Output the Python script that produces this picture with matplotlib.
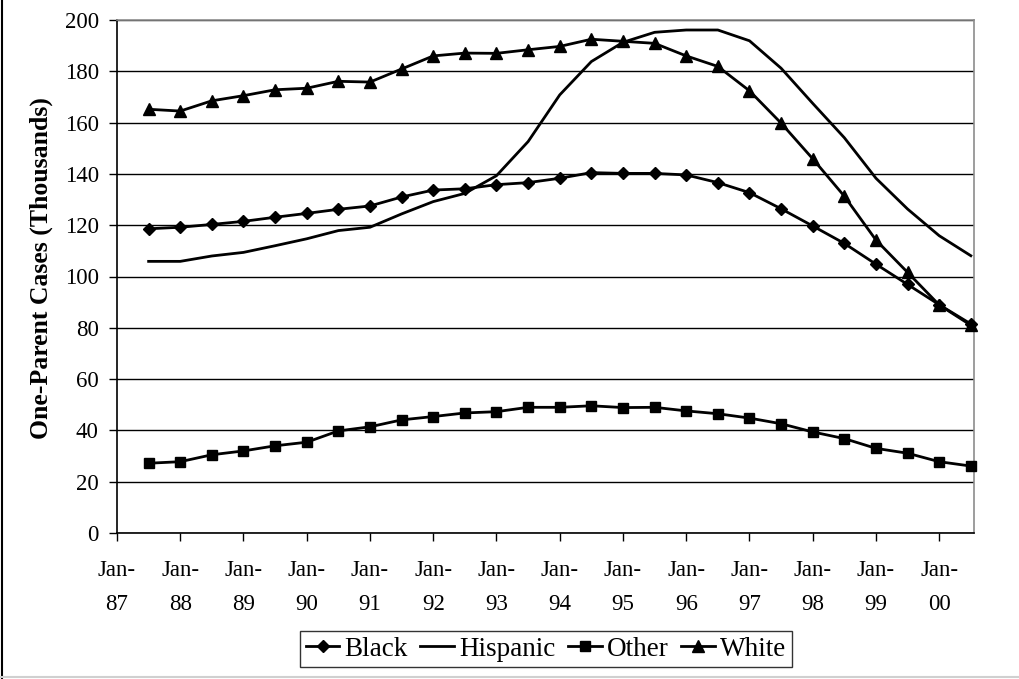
import numpy as np
import matplotlib
matplotlib.use("Agg")
import matplotlib.pyplot as plt
from matplotlib.lines import Line2D

plt.rcParams["font.family"] = ["Liberation Serif", "DejaVu Serif"]

# Half-yearly observations, July 1987 through July 2000
start_year = 1987.5
tick_labels = ["Jan-\n87", "Jan-\n88", "Jan-\n89", "Jan-\n90", "Jan-\n91", "Jan-\n92",
               "Jan-\n93", "Jan-\n94", "Jan-\n95", "Jan-\n96", "Jan-\n97", "Jan-\n98",
               "Jan-\n99", "Jan-\n00"]

black = [118.6, 119.2, 120.3, 121.5, 123.1, 124.6, 126.2, 127.5, 131.0, 133.7, 134.2,
         135.8, 136.6, 138.3, 140.5, 140.2, 140.2, 139.6, 136.6, 132.7, 126.4, 119.7,
         112.9, 104.8, 96.9, 89.0, 81.5]
hispanic = [105.9, 105.9, 108.0, 109.4, 112.0, 114.7, 117.9, 119.2, 124.4, 129.2, 132.4,
            139.3, 152.6, 170.8, 183.8, 191.3, 195.2, 196.1, 196.1, 191.9, 181.2, 167.5,
            154.1, 138.3, 126.3, 115.9, 108.1]
other = [27.2, 27.8, 30.5, 32.0, 34.0, 35.4, 39.8, 41.4, 44.1, 45.4, 46.8, 47.3, 49.0,
         49.0, 49.6, 48.9, 49.0, 47.6, 46.5, 44.8, 42.6, 39.4, 36.8, 33.0, 31.1, 27.8, 26.1]
white = [165.2, 164.5, 168.5, 170.5, 172.8, 173.4, 176.1, 175.8, 180.9, 186.0, 187.1,
         187.0, 188.4, 189.7, 192.5, 191.7, 190.9, 186.0, 181.9, 172.4, 159.8, 145.9,
         131.3, 114.2, 101.6, 88.9, 81.0]

x = start_year + 0.5 * np.arange(len(black))

W, H = 1020, 679
fig = plt.figure(figsize=(W / 100, H / 100), dpi=100)
ax = fig.add_axes([117 / W, 1 - 533 / H, (974 - 117) / W, (533 - 20) / H])

lw = 2.0
ax.plot(x, black, color="black", lw=lw, marker="D", ms=6.5, clip_on=False, zorder=3, label="Black")
ax.plot(x, hispanic, color="black", lw=lw, clip_on=False, zorder=3, label="Hispanic")
ax.plot(x, other, color="black", lw=lw, marker="s", ms=7, clip_on=False, zorder=3, label="Other")
ax.plot(x, white, color="black", lw=lw, marker="^", ms=8, clip_on=False, zorder=3, label="White")

ax.set_xlim(1987, 2000.55)
ax.set_ylim(0, 200)
ax.set_yticks(np.arange(0, 201, 20))
ax.set_xticks(np.arange(1987, 2001))
ax.set_xticklabels(tick_labels, linespacing=1.8)
ax.tick_params(axis="both", labelsize=16.5, direction="out", length=5.8, width=1, color="black")
ax.tick_params(axis="x", pad=13.5)
ax.tick_params(axis="y", pad=7.3)

ax.yaxis.grid(True, color="black", lw=1)
ax.set_axisbelow(True)
for side in ("top", "right"):
    ax.spines[side].set_color("#8c8c8c")
    ax.spines[side].set_linewidth(1.2)
for side in ("left", "bottom"):
    ax.spines[side].set_color("black")
    ax.spines[side].set_linewidth(1.2)

ax.set_ylabel("One-Parent Cases (Thousands)", fontsize=18.5, fontweight="bold")
ax.yaxis.set_label_coords(41 / W, 1 - 268 / H, transform=fig.transFigure)
ax.yaxis.label.set_verticalalignment("center")

leg = fig.legend(loc="center", bbox_to_anchor=(546 / W, 1 - 649 / H), ncol=4,
                 fontsize=19.5, frameon=True, fancybox=False, handlelength=1.25,
                 handletextpad=0.18, columnspacing=0.47, borderpad=0.2, borderaxespad=0)
leg.get_frame().set_edgecolor("black")
leg.get_frame().set_linewidth(1.0)

# Outer chart border: left edge and bottom edge
fig.add_artist(Line2D([2.5 / W, 2.5 / W], [0, 1], transform=fig.transFigure, color="black", lw=1.5))
fig.add_artist(Line2D([0, 1], [2 / H, 2 / H], transform=fig.transFigure, color="#d0d0d0", lw=1.5))

fig.savefig("out.png", dpi=100)
